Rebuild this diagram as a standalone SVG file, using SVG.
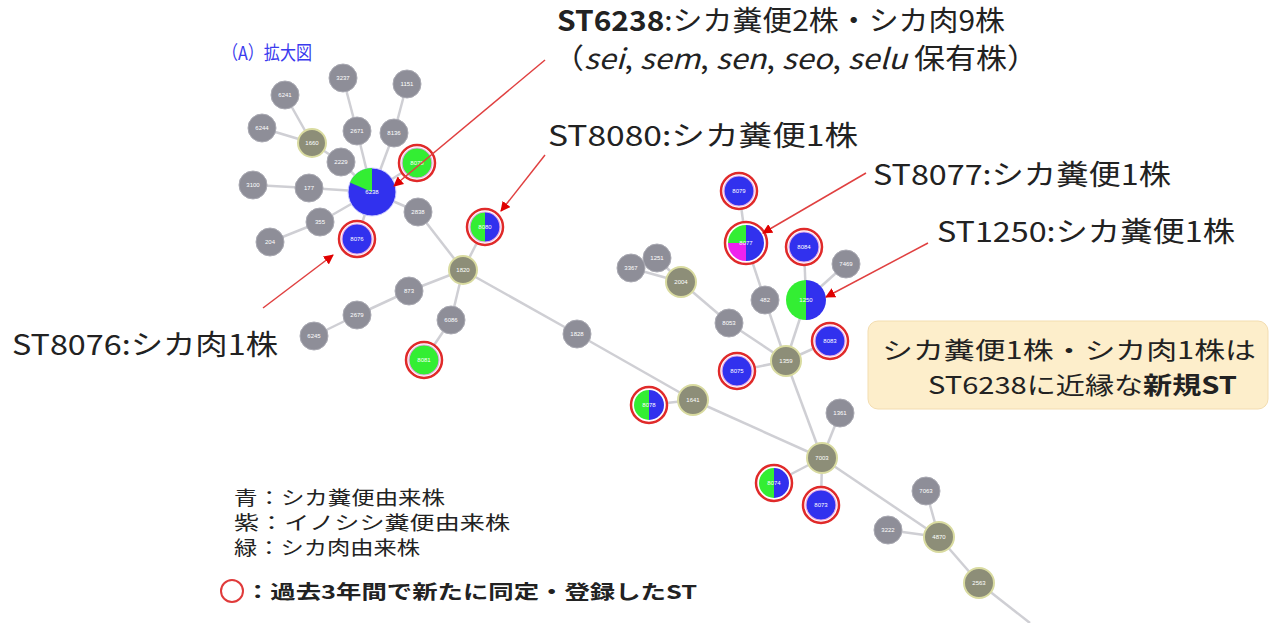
<svg xmlns="http://www.w3.org/2000/svg" width="1277" height="623" viewBox="0 0 1277 623">
<style>
.e{stroke:#cfcfd4;stroke-width:2.5;fill:none}
.g{fill:#8e8e98;stroke:#a9a9b2;stroke-width:1}
.o{fill:#8d8e78;stroke:#d9dba0;stroke-width:2}
.ring{fill:#fff;stroke:#e02a2a;stroke-width:2.5}
.inb{stroke:#e6a8e6;stroke-width:1.2}
.b{fill:#3131ee}
.gr{fill:#33ee33}
.m{fill:#ee22ee}
.nl{font-family:"Liberation Sans",Arial,sans-serif;font-size:6px;fill:#ffffff;text-anchor:middle}
.t{font-family:"Noto Sans CJK JP","Noto Sans",sans-serif;fill:#222}
.arr{stroke:#e04040;stroke-width:1.5;fill:none}
</style>
<defs>
<marker id="ah" markerWidth="10" markerHeight="10" refX="9" refY="5" orient="auto" markerUnits="userSpaceOnUse">
<path d="M0,0 L10,5 L0,10 Z" fill="#e00000"/>
</marker>
</defs>
<rect width="1277" height="623" fill="#ffffff"/>

<g id="connectors">
<line class="e" x1="372" y1="192" x2="309" y2="188"/>
<line class="e" x1="309" y1="188" x2="253" y2="185"/>
<line class="e" x1="372" y1="192" x2="341" y2="162"/>
<line class="e" x1="372" y1="192" x2="357" y2="131"/>
<line class="e" x1="357" y1="131" x2="343" y2="78"/>
<line class="e" x1="372" y1="192" x2="394" y2="133"/>
<line class="e" x1="394" y1="133" x2="407" y2="84"/>
<line class="e" x1="312" y1="143" x2="285" y2="95"/>
<line class="e" x1="312" y1="143" x2="262" y2="128"/>
<line class="e" x1="312" y1="143" x2="341" y2="162"/>
<line class="e" x1="372" y1="192" x2="417" y2="163"/>
<line class="e" x1="372" y1="192" x2="320" y2="222"/>
<line class="e" x1="320" y1="222" x2="270" y2="242"/>
<line class="e" x1="372" y1="192" x2="357" y2="239"/>
<line class="e" x1="372" y1="192" x2="418" y2="212"/>
<line class="e" x1="418" y1="212" x2="463" y2="270"/>
<line class="e" x1="463" y1="270" x2="485" y2="227"/>
<line class="e" x1="463" y1="270" x2="409" y2="291"/>
<line class="e" x1="409" y1="291" x2="357" y2="315"/>
<line class="e" x1="357" y1="315" x2="314" y2="336"/>
<line class="e" x1="463" y1="270" x2="451" y2="320"/>
<line class="e" x1="451" y1="320" x2="424" y2="360"/>
<line class="e" x1="463" y1="270" x2="577" y2="334"/>
<line class="e" x1="577" y1="334" x2="693" y2="400"/>
<line class="e" x1="693" y1="400" x2="649" y2="405"/>
<line class="e" x1="693" y1="400" x2="822" y2="458"/>
<line class="e" x1="822" y1="458" x2="786" y2="361"/>
<line class="e" x1="786" y1="361" x2="765" y2="300"/>
<line class="e" x1="765" y1="300" x2="746" y2="243"/>
<line class="e" x1="746" y1="243" x2="739" y2="191"/>
<line class="e" x1="786" y1="361" x2="806" y2="300"/>
<line class="e" x1="806" y1="300" x2="804" y2="247"/>
<line class="e" x1="806" y1="300" x2="846" y2="264"/>
<line class="e" x1="786" y1="361" x2="830" y2="341"/>
<line class="e" x1="786" y1="361" x2="737" y2="371"/>
<line class="e" x1="786" y1="361" x2="729" y2="323"/>
<line class="e" x1="729" y1="323" x2="681" y2="282"/>
<line class="e" x1="681" y1="282" x2="657" y2="258"/>
<line class="e" x1="681" y1="282" x2="631" y2="268"/>
<line class="e" x1="822" y1="458" x2="840" y2="413"/>
<line class="e" x1="822" y1="458" x2="774" y2="483"/>
<line class="e" x1="822" y1="458" x2="821" y2="505"/>
<line class="e" x1="822" y1="458" x2="939" y2="537"/>
<line class="e" x1="888" y1="530" x2="939" y2="537"/>
<line class="e" x1="926" y1="491" x2="939" y2="537"/>
<line class="e" x1="939" y1="537" x2="979" y2="583"/>
<line class="e" x1="979" y1="583" x2="1030" y2="623"/>
</g>

<g id="n6241"><circle class="g" cx="285" cy="95" r="14"/><text class="nl" x="285" y="97">6241</text></g>
<g id="n3237"><circle class="g" cx="343" cy="78" r="14"/><text class="nl" x="343" y="80">3237</text></g>
<g id="n1151"><circle class="g" cx="407" cy="84" r="14"/><text class="nl" x="407" y="86">1151</text></g>
<g id="n6244"><circle class="g" cx="262" cy="128" r="14"/><text class="nl" x="262" y="130">6244</text></g>
<g id="n2671"><circle class="g" cx="357" cy="131" r="14"/><text class="nl" x="357" y="133">2671</text></g>
<g id="n8136"><circle class="g" cx="394" cy="133" r="14"/><text class="nl" x="394" y="135">8136</text></g>
<g id="n1660"><circle class="o" cx="312" cy="143" r="14"/><text class="nl" x="312" y="145">1660</text></g>
<g id="n2229"><circle class="g" cx="341" cy="162" r="14"/><text class="nl" x="341" y="164">2229</text></g>
<g id="n3100"><circle class="g" cx="253" cy="185" r="14"/><text class="nl" x="253" y="187">3100</text></g>
<g id="n177"><circle class="g" cx="309" cy="188" r="14"/><text class="nl" x="309" y="190">177</text></g>
<g id="n355"><circle class="g" cx="320" cy="222" r="14"/><text class="nl" x="320" y="224">355</text></g>
<g id="n204"><circle class="g" cx="270" cy="242" r="14"/><text class="nl" x="270" y="244">204</text></g>
<g id="n2838"><circle class="g" cx="418" cy="212" r="14"/><text class="nl" x="418" y="214">2838</text></g>

<g id="n6238">
<circle class="b" cx="372" cy="192" r="24" stroke="#d0d0ff" stroke-width="1"/>
<path class="gr" d="M372,192 L372,168 A24,24 0 0 0 349.9,182.6 Z"/>
<text class="nl" x="372" y="194">6238</text>
</g>
<g id="n8078a"><circle class="ring" cx="417" cy="163" r="18"/><circle class="gr inb" cx="417" cy="163" r="15"/><text class="nl" x="417" y="165">8078</text></g>
<g id="n8076"><circle class="ring" cx="357" cy="239" r="18"/><circle class="b inb" cx="357" cy="239" r="15"/><text class="nl" x="357" y="241">8076</text></g>

<g id="n1820"><circle class="o" cx="463" cy="270" r="14"/><text class="nl" x="463" y="272">1820</text></g>
<g id="n8080"><circle class="ring" cx="485" cy="227" r="18"/><path class="gr" d="M485,212 A15,15 0 0 0 485,242 Z"/><path class="b" d="M485,212 A15,15 0 0 1 485,242 Z"/><circle cx="485" cy="227" r="15" fill="none" class="inb"/><text class="nl" x="485" y="229">8080</text></g>
<g id="n873"><circle class="g" cx="409" cy="291" r="14"/><text class="nl" x="409" y="293">873</text></g>
<g id="n2679"><circle class="g" cx="357" cy="315" r="14"/><text class="nl" x="357" y="317">2679</text></g>
<g id="n6245"><circle class="g" cx="314" cy="336" r="14"/><text class="nl" x="314" y="338">6245</text></g>
<g id="n6086"><circle class="g" cx="451" cy="320" r="14"/><text class="nl" x="451" y="322">6086</text></g>
<g id="n8081"><circle class="ring" cx="424" cy="360" r="18"/><circle class="gr inb" cx="424" cy="360" r="15"/><text class="nl" x="424" y="362">8081</text></g>
<g id="n1828"><circle class="g" cx="577" cy="334" r="14"/><text class="nl" x="577" y="336">1828</text></g>

<g id="n1251"><circle class="g" cx="657" cy="258" r="14"/><text class="nl" x="657" y="260">1251</text></g>
<g id="n3367"><circle class="g" cx="631" cy="268" r="14"/><text class="nl" x="631" y="270">3367</text></g>
<g id="n2004"><circle class="o" cx="681" cy="282" r="15"/><text class="nl" x="681" y="284">2004</text></g>
<g id="n8053"><circle class="g" cx="729" cy="323" r="14"/><text class="nl" x="729" y="325">8053</text></g>
<g id="n482"><circle class="g" cx="765" cy="300" r="14"/><text class="nl" x="765" y="302">482</text></g>
<g id="n8079"><circle class="ring" cx="739" cy="191" r="18"/><circle class="b inb" cx="739" cy="191" r="15"/><text class="nl" x="739" y="193">8079</text></g>
<g id="n8077"><circle class="ring" cx="746" cy="243" r="21"/>
<path class="b" d="M746,225 A18,18 0 0 1 746,261 Z"/>
<path class="gr" d="M746,243 L746,225 A18,18 0 0 0 728,243 Z"/>
<path class="m" d="M746,243 L728,243 A18,18 0 0 0 746,261 Z"/>
<text class="nl" x="746" y="245">8077</text></g>
<g id="n8084"><circle class="ring" cx="804" cy="247" r="18"/><circle class="b inb" cx="804" cy="247" r="15"/><text class="nl" x="804" y="249">8084</text></g>
<g id="n7469"><circle class="g" cx="846" cy="264" r="14"/><text class="nl" x="846" y="266">7469</text></g>
<g id="n1250"><path class="gr" d="M806,280 A20,20 0 0 0 806,320 Z"/><path class="b" d="M806,280 A20,20 0 0 1 806,320 Z"/><text class="nl" x="806" y="302">1250</text></g>
<g id="n8083"><circle class="ring" cx="830" cy="341" r="18"/><circle class="b inb" cx="830" cy="341" r="15"/><text class="nl" x="830" y="343">8083</text></g>
<g id="n1359"><circle class="o" cx="786" cy="361" r="15"/><text class="nl" x="786" y="363">1359</text></g>
<g id="n8075"><circle class="ring" cx="737" cy="371" r="18"/><circle class="b inb" cx="737" cy="371" r="15"/><text class="nl" x="737" y="373">8075</text></g>
<g id="n8078"><circle class="ring" cx="649" cy="405" r="18"/><path class="gr" d="M649,390 A15,15 0 0 0 649,420 Z"/><path class="b" d="M649,390 A15,15 0 0 1 649,420 Z"/><text class="nl" x="649" y="407">8078</text></g>
<g id="n1641"><circle class="o" cx="693" cy="400" r="15"/><text class="nl" x="693" y="402">1641</text></g>
<g id="n1361"><circle class="g" cx="840" cy="413" r="14"/><text class="nl" x="840" y="415">1361</text></g>
<g id="n7003"><circle class="o" cx="822" cy="458" r="15"/><text class="nl" x="822" y="460">7003</text></g>
<g id="n8074"><circle class="ring" cx="774" cy="483" r="18"/><path class="gr" d="M774,468 A15,15 0 0 0 774,498 Z"/><path class="b" d="M774,468 A15,15 0 0 1 774,498 Z"/><text class="nl" x="774" y="485">8074</text></g>
<g id="n8073"><circle class="ring" cx="821" cy="505" r="18"/><circle class="b inb" cx="821" cy="505" r="15"/><text class="nl" x="821" y="507">8073</text></g>
<g id="n7063"><circle class="g" cx="926" cy="491" r="14"/><text class="nl" x="926" y="493">7063</text></g>
<g id="n3222"><circle class="g" cx="888" cy="530" r="14"/><text class="nl" x="888" y="532">3222</text></g>
<g id="n4870"><circle class="o" cx="939" cy="537" r="15"/><text class="nl" x="939" y="539">4870</text></g>
<g id="n2563"><circle class="o" cx="979" cy="583" r="15"/><text class="nl" x="979" y="585">2563</text></g>

<g id="arrows">
<line class="arr" x1="545" y1="60" x2="394" y2="186" marker-end="url(#ah)"/>
<line class="arr" x1="545" y1="155" x2="501" y2="211" marker-end="url(#ah)"/>
<line class="arr" x1="866" y1="173" x2="763" y2="233" marker-end="url(#ah)"/>
<line class="arr" x1="928" y1="243" x2="826" y2="297" marker-end="url(#ah)"/>
<line class="arr" x1="263" y1="308" x2="333" y2="255" marker-end="url(#ah)"/>
</g>

<g id="labels">
<text x="222" y="60" font-family="Noto Sans CJK JP,sans-serif" font-size="19" fill="#3a3aee" textLength="90" lengthAdjust="spacingAndGlyphs">（A）拡大図</text>
<text class="t" x="557" y="31" font-size="28" textLength="448" lengthAdjust="spacingAndGlyphs"><tspan font-weight="bold">ST6238</tspan>:シカ糞便2株・シカ肉9株</text>
<text class="t" x="553" y="69" font-size="28" textLength="485" lengthAdjust="spacingAndGlyphs">（<tspan font-style="italic">sei</tspan>, <tspan font-style="italic">sem</tspan>, <tspan font-style="italic">sen</tspan>, <tspan font-style="italic">seo</tspan>, <tspan font-style="italic">selu</tspan> 保有株）</text>
<text class="t" x="548" y="146" font-size="28" textLength="310" lengthAdjust="spacingAndGlyphs">ST8080:シカ糞便1株</text>
<text class="t" x="873" y="185" font-size="28" textLength="298" lengthAdjust="spacingAndGlyphs">ST8077:シカ糞便1株</text>
<text class="t" x="937" y="242" font-size="28" textLength="298" lengthAdjust="spacingAndGlyphs">ST1250:シカ糞便1株</text>
<text class="t" x="12" y="355" font-size="28" textLength="266" lengthAdjust="spacingAndGlyphs">ST8076:シカ肉1株</text>
</g>

<g id="note">
<rect x="868" y="321" width="400" height="88" rx="10" fill="#fdeecb" stroke="#f3ddb0" stroke-width="1"/>
<text class="t" x="882" y="359" font-size="24" textLength="374" lengthAdjust="spacingAndGlyphs">シカ糞便1株・シカ肉1株は</text>
<text class="t" x="928" y="394" font-size="24" textLength="309" lengthAdjust="spacingAndGlyphs">ST6238に近縁な<tspan font-weight="bold">新規ST</tspan></text>
</g>

<g id="legend">
<text class="t" x="234" y="505" font-size="19" textLength="211" lengthAdjust="spacingAndGlyphs">青：シカ糞便由来株</text>
<text class="t" x="234" y="530" font-size="19" textLength="276" lengthAdjust="spacingAndGlyphs">紫：イノシシ糞便由来株</text>
<text class="t" x="234" y="555" font-size="19" textLength="186" lengthAdjust="spacingAndGlyphs">緑：シカ肉由来株</text>
<circle cx="232" cy="591" r="11" fill="none" stroke="#e03a3a" stroke-width="2"/>
<text class="t" x="245" y="599" font-size="19" font-weight="bold" textLength="452" lengthAdjust="spacingAndGlyphs">：過去3年間で新たに同定・登録したST</text>
</g>
</svg>
